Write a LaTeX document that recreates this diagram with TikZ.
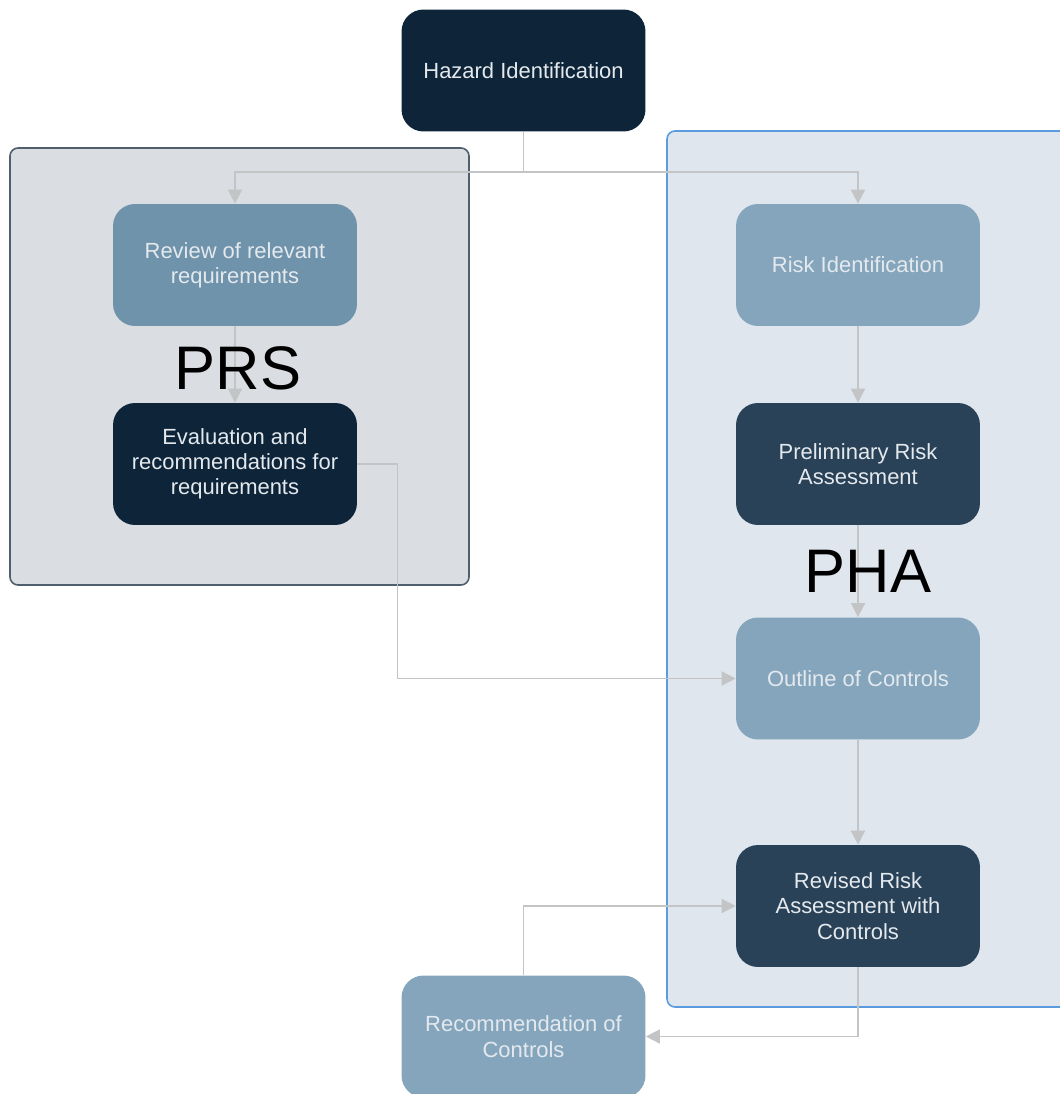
\documentclass[tikz,border=0pt]{standalone}
\usepackage{fontspec}
\setmainfont{Liberation Sans}
\usetikzlibrary{arrows.meta}
\usepackage{xcolor}

\definecolor{navy}{HTML}{0E2438}
\definecolor{slate}{HTML}{294258}
\definecolor{steel}{HTML}{84A5BC}
\definecolor{steeldark}{HTML}{6F93AB}
\definecolor{prsfill}{HTML}{DADDE1}
\definecolor{prsline}{HTML}{4F5F6E}
\definecolor{phafill}{HTML}{DFE6EE}
\definecolor{phaline}{HTML}{5B9BE0}
\definecolor{wire}{HTML}{C2C4C6}
\definecolor{lighttext}{HTML}{E4E9EE}

\begin{document}
\begin{tikzpicture}[x=0.02cm, y=-0.02cm,
  stage/.style={rounded corners=0.44cm, minimum width=4.88cm,
                minimum height=2.44cm, align=center, text=lighttext,
                font=\fontsize{12.5}{14.4}\selectfont},
  group/.style={rounded corners=0.16cm, line width=0.9pt},
  arr/.style={-{Triangle[length=0.28cm, width=0.28cm]}, draw=wire,
              line width=0.9pt},
  wireline/.style={draw=wire, line width=0.9pt},
  tag/.style={font=\fontsize{35}{40}\selectfont, text=black},
]
  \useasboundingbox (0,0) rectangle (1059,1094);

  % groups
  \draw[group, fill=prsfill, draw=prsline] (10,148) rectangle (469,585);
  \draw[group, fill=phafill, draw=phaline] (667,131) rectangle (1075,1007);

  % stages
  \node[stage, fill=navy] (haz) at (523.5,70.5) {Hazard Identification};
  \node[stage, fill=steeldark] (review) at (235,265) {Review of relevant\\requirements};
  \node[stage, fill=navy] (eval) at (235,464) {Evaluation and\\recommendations for\\requirements};
  \node[stage, fill=steel] (riskid) at (858,265) {Risk Identification};
  \node[stage, fill=slate] (prelim) at (858,464) {Preliminary Risk\\Assessment};
  \node[stage, fill=steel] (outline) at (858,678.5) {Outline of Controls};
  \node[stage, fill=slate] (revised) at (858,906) {Revised Risk\\Assessment with\\Controls};
  \node[stage, fill=steel] (recomm) at (523.5,1036.5) {Recommendation of\\Controls};

  \coordinate (split) at (523.5,172);

  % connectors
  \draw[wireline] (haz.south) -- (split);
  \draw[arr] (split) -| (review.north);
  \draw[arr] (split) -| (riskid.north);
  \draw[arr] (review) -- (eval);
  \draw[arr] (eval.east) -- ++(40,0) |- (outline.west);
  \draw[arr] (riskid) -- (prelim);
  \draw[arr] (prelim) -- (outline);
  \draw[arr] (outline) -- (revised);
  \draw[arr] (revised.south) |- (recomm.east);
  \draw[arr] (recomm.north) |- (revised.west);

  % group labels
  \node[tag] (prslbl) at (238,368) {PRS};
  \node[tag] (phalbl) at (868,571) {PHA};
\end{tikzpicture}
\end{document}
